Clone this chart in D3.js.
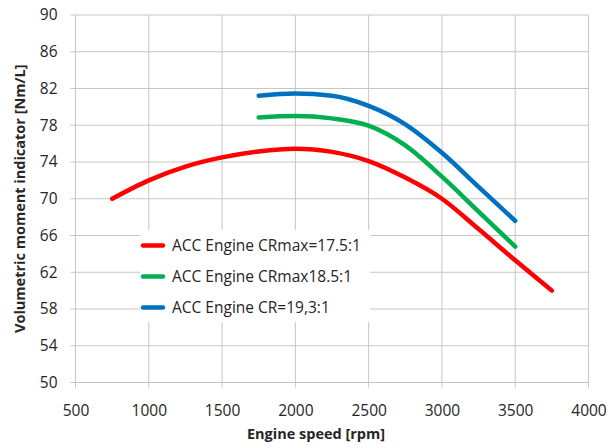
<!DOCTYPE html>
<html>
<head>
<meta charset="utf-8">
<script src="https://cdn.jsdelivr.net/npm/d3@7"></script>
<style>
    body { margin: 0; background: #fff; }
    text { font-family: "Open Sans", "Noto Sans", sans-serif; fill: #262626; }
</style>
</head>
<body>
<div id="chart"></div>
<script>
let xTicks = [500, 1000, 1500, 2000, 2500, 3000, 3500, 4000]
let yTicks = [50, 54, 58, 62, 66, 70, 74, 78, 82, 86, 90]

let rpmRed = [750, 1000, 1250, 1500, 1750, 2000, 2250, 2500, 2750, 3000, 3250, 3500, 3750]
let valRed = [70.0, 72.0, 73.5, 74.5, 75.15, 75.45, 75.1, 74.1, 72.3, 70.0, 66.7, 63.3, 60.0]

let rpmGreen = [1750, 2000, 2250, 2500, 2750, 3000, 3250, 3500]
let valGreen = [78.85, 79.0, 78.75, 77.95, 75.8, 72.4, 68.6, 64.8]

let rpmBlue = [1750, 2000, 2250, 2500, 2750, 3000, 3250, 3500]
let valBlue = [81.2, 81.45, 81.2, 80.1, 78.1, 75.0, 71.3, 67.6]

let seriesNames = ["ACC Engine CRmax=17.5:1", "ACC Engine CRmax18.5:1", "ACC Engine CR=19,3:1"]
let seriesColors = ["#ff0000", "#00b050", "#0070c0"]

let W = 608, H = 448
let margins = {top: 15, right: 19.5, bottom: 65.5, left: 75.5}
let width = W - margins.left - margins.right
let height = H - margins.top - margins.bottom

let svg = d3.select("#chart").append("svg")
    .attr("width", W).attr("height", H)

let g = svg.append("g")
    .attr("transform", `translate(${margins.left}, ${margins.top})`)

let xScale = d3.scaleLinear().domain([500, 4000]).range([0, width])
let yScale = d3.scaleLinear().domain([50, 90]).range([height, 0])

// gridlines
g.append("g").selectAll("line").data(xTicks).join("line")
    .attr("x1", d => xScale(d)).attr("x2", d => xScale(d))
    .attr("y1", 0).attr("y2", height + 5)
    .attr("stroke", "#c6c6c6").attr("stroke-width", 1)
g.append("g").selectAll("line").data(yTicks).join("line")
    .attr("x1", -5).attr("x2", width)
    .attr("y1", d => yScale(d)).attr("y2", d => yScale(d))
    .attr("stroke", "#c6c6c6").attr("stroke-width", 1)

// axes (labels only, the lines come from the grid)
let xAxis = g.append("g")
    .attr("transform", `translate(0, ${height})`)
    .call(d3.axisBottom(xScale).tickValues(xTicks).tickFormat(d3.format("d")).tickSize(0).tickPadding(22))
let yAxis = g.append("g")
    .call(d3.axisLeft(yScale).tickValues(yTicks).tickSize(0).tickPadding(18))
for (let ax of [xAxis, yAxis]) {
    ax.select(".domain").remove()
    ax.selectAll("text").style("font-size", "15.5px").attr("fill", "#262626")
        .style("font-family", "'Open Sans', sans-serif")
}

// series
let series = [
    {rpm: rpmRed, val: valRed},
    {rpm: rpmGreen, val: valGreen},
    {rpm: rpmBlue, val: valBlue}
]
let line = d3.line()
    .x(d => xScale(d[0]))
    .y(d => yScale(d[1]))
    .curve(d3.curveMonotoneX)

series.forEach((s, i) => {
    g.append("path")
        .datum(s.rpm.map((r, j) => [r, s.val[j]]))
        .attr("d", line)
        .attr("fill", "none")
        .attr("stroke", seriesColors[i])
        .attr("stroke-width", 4.5)
        .attr("stroke-linecap", "round")
        .attr("stroke-linejoin", "round")
})

// legend
let legend = svg.append("g")
legend.append("rect")
    .attr("x", 140).attr("y", 230).attr("width", 230).attr("height", 92)
    .attr("fill", "#fff")
seriesNames.forEach((name, i) => {
    let y = 245.5 + i * 31
    legend.append("line")
        .attr("x1", 143).attr("x2", 163).attr("y1", y).attr("y2", y)
        .attr("stroke", seriesColors[i]).attr("stroke-width", 4.5)
        .attr("stroke-linecap", "round")
    legend.append("text")
        .attr("x", 172).attr("y", y).attr("dy", "0.35em")
        .style("font-size", "15.5px")
        .text(name)
})

// axis titles
svg.append("text")
    .attr("x", 316).attr("y", 439)
    .attr("text-anchor", "middle")
    .style("font-size", "14.5px").style("font-weight", "bold")
    .text("Engine speed [rpm]")

svg.append("text")
    .attr("transform", `translate(25, ${margins.top + height / 2}) rotate(-90)`)
    .attr("text-anchor", "middle")
    .style("font-size", "14.5px").style("font-weight", "bold")
    .text("Volumetric moment indicator [Nm/L]")
</script>
</body>
</html>
